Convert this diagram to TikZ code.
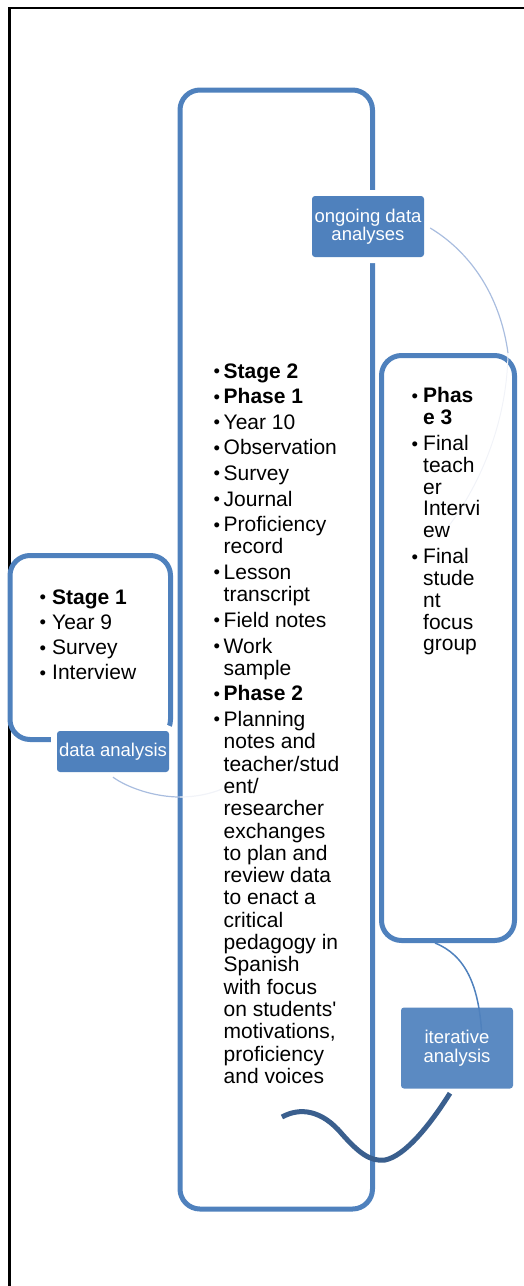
\documentclass[tikz,border=0pt]{standalone}
\usepackage{fontspec}
\newfontfamily\arial{Liberation Sans}
\definecolor{accent}{HTML}{4F81BD}
\definecolor{deep}{HTML}{3A5F8E}
\definecolor{pale}{HTML}{A9BDDF}
\definecolor{faint}{HTML}{F1F3F8}
% bullet in a box of the given width
\newcommand\lbul[1]{\makebox[#1][l]{\raisebox{0.6pt}{\fontsize{18.5pt}{18.5pt}\selectfont •}}}
\begin{document}
\begin{tikzpicture}[x=1pt,y=-1pt,
  frame/.style={draw=black, line width=2.5pt},
  box/.style={draw=accent, line width=5pt, rounded corners=20pt, inner sep=0pt},
  tag/.style={fill=accent, text=white, rounded corners=3pt, inner sep=0pt,
    align=center, minimum width=112pt,
    font=\arial\fontsize{18.5pt}{18.5pt}\selectfont},
  gap/.style={preaction={draw=white, line width=12pt}},
  itemlist/.style={anchor=base west, inner sep=0pt},
  arcline/.style={draw=pale, line width=1.2pt},
  link/.style={draw=accent, line width=1.5pt},
  wave/.style={draw=deep, line width=5pt}]

\useasboundingbox (0,0) rectangle (524,1286);

% outer frame (open on the right and at the bottom)
\coordinate (frTR) at (524,8);
\coordinate (frTL) at (9.5,8);
\coordinate (frBL) at (9.5,1286);
\draw[frame] (frTR) -- (frTL) -- (frBL);

% three stage boxes
\node[box, minimum width=160.5pt, minimum height=184pt] (s1) at (90.25,647.5) {};
\node[box, minimum width=192.5pt, minimum height=1119pt] (s2) at (276.25,649.5) {};
\node[box, minimum width=133pt, minimum height=585pt] (p3) at (448,648) {};

% fading tails of the cycle arcs
\coordinate (a1) at (180,797);
\coordinate (a2) at ([xshift=-9pt]p3.north east);
\draw[draw=faint, line width=1.2pt] (a1) .. controls (195,797) and (210,794) .. (222,789);
\draw[draw=faint, line width=1pt] (a2) .. controls (507,420) and (482,482) .. (448,527);

% box contents
\node[itemlist, font=\arial\fontsize{21pt}{25.3pt}\selectfont] (t1) at (39.5,604) {%
\begin{tabular}[t]{@{}l@{}l@{}}
\lbul{12.5pt} & \textbf{Stage 1}\\
\lbul{12.5pt} & Year 9\\
\lbul{12.5pt} & Survey\\
\lbul{12.5pt} & Interview
\end{tabular}};

\node[itemlist, font=\arial\fontsize{21pt}{22.3pt}\selectfont] (t2) at (213.5,378) {%
\begin{tabular}[t]{@{}l@{}l@{}}
\lbul{10pt} & \textbf{Stage 2}\\[3.3pt]
\lbul{10pt} & \textbf{Phase 1}\\[3.3pt]
\lbul{10pt} & Year 10\\[3.3pt]
\lbul{10pt} & Observation\\[3.3pt]
\lbul{10pt} & Survey\\[3.3pt]
\lbul{10pt} & Journal\\[3.3pt]
\lbul{10pt} & Proficiency\\
 & record\\[3.3pt]
\lbul{10pt} & Lesson\\
 & transcript\\[3.3pt]
\lbul{10pt} & Field notes\\[3.3pt]
\lbul{10pt} & Work\\
 & sample\\[3.3pt]
\lbul{10pt} & \textbf{Phase 2}\\[3.3pt]
\lbul{10pt} & Planning\\
 & notes and\\
 & teacher/stud\\
 & ent/\\
 & researcher\\
 & exchanges\\
 & to plan and\\
 & review data\\
 & to enact a\\
 & critical\\
 & pedagogy in\\
 & Spanish\\
 & with focus\\
 & on students'\\
 & motivations,\\
 & proficiency\\
 & and voices
\end{tabular}};

\node[itemlist, font=\arial\fontsize{21pt}{21.7pt}\selectfont] (t3) at (411.5,402.7) {%
\begin{tabular}[t]{@{}l@{}l@{}}
\lbul{11.5pt} & \textbf{Phas}\\
 & \textbf{e 3}\\[4.6pt]
\lbul{11.5pt} & Final\\
 & teach\\
 & er\\
 & Intervi\\
 & ew\\[4.6pt]
\lbul{11.5pt} & Final\\
 & stude\\
 & nt\\
 & focus\\
 & group
\end{tabular}};

% analysis labels on the cycle
\node[tag, gap, minimum height=41pt] (da) at (113,751.5) {data analysis};
\node[tag, gap, minimum height=61pt] (og) at (368,226.5) {ongoing data\\analyses};

% cycle arcs
\draw[arcline] ([yshift=-5pt]da.south) .. controls (128,788) and (155,797) .. (a1);
\draw[arcline] ([xshift=6pt,yshift=-1.5pt]og.east) .. controls (470,252) and (500,295) .. (a2);

% link from phase 3 down to the iterative step
\coordinate (a3) at (482,1040);
\draw[link] ([xshift=-13pt]p3.south) .. controls (465,955) and (480,985) .. (a3);
\node[tag, minimum height=81pt, fill opacity=0.93, text opacity=1] (it) at (457,1048) {iterative\\analysis};

% returning wave
\coordinate (w0) at (282,1117);
\draw[wave] (w0) .. controls (300,1107) and (322,1110) .. (342,1134)
  .. controls (358,1152) and (370,1162) .. (385,1160)
  .. controls (405,1156) and (430,1125) .. ([shift={(-7,4.5)}]it.south);
\end{tikzpicture}
\end{document}
